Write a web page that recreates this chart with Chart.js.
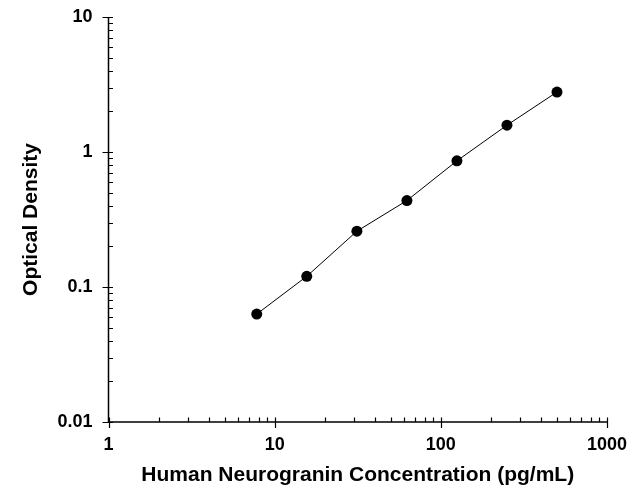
<!DOCTYPE html>
<html>
<head>
<meta charset="utf-8">
<script src="https://cdn.jsdelivr.net/npm/chart.js@4/dist/chart.umd.min.js"></script>
<style>
html,body{margin:0;padding:0;background:#fff;}
#wrap{width:643px;height:500px;position:relative;}
</style>
</head>
<body>
<div id="wrap"><canvas id="c" width="643" height="500"></canvas></div>
<script>
const concentrations = [7.8, 15.6, 31.25, 62.5, 125, 250, 500];
const opticalDensity = [0.063, 0.120, 0.259, 0.437, 0.86, 1.58, 2.78];
const xTickValues = [1, 10, 100, 1000];
const yTickValues = [0.01, 0.1, 1, 10];
const xTitle = 'Human Neurogranin Concentration (pg/mL)';
const yTitle = 'Optical Density';

const points = concentrations.map((x, i) => ({x: x, y: opticalDensity[i]}));

const axisPlugin = {
  id: 'axisPlugin',
  afterDraw(chart) {
    const ctx = chart.ctx;
    const xs = chart.scales.x, ys = chart.scales.y;
    const ca = chart.chartArea;
    ctx.save();
    ctx.strokeStyle = '#000';
    ctx.lineWidth = 1.5;
    ctx.beginPath();
    ctx.moveTo(ca.left, ca.top);
    ctx.lineTo(ca.left, ca.bottom);
    ctx.lineTo(ca.right, ca.bottom);
    ctx.stroke();
    ctx.lineWidth = 1.2;
    ctx.beginPath();
    for (let d = 1; d < 1000; d *= 10) {
      for (let m = 2; m <= 9; m++) {
        const px = Math.round(xs.getPixelForValue(d * m)) + 0.5;
        ctx.moveTo(px, ca.bottom - 4.5);
        ctx.lineTo(px, ca.bottom);
      }
    }
    xTickValues.forEach(v => {
      const px = Math.round(xs.getPixelForValue(v)) + 0.5;
      ctx.moveTo(px, ca.bottom - 4.5);
      ctx.lineTo(px, ca.bottom + 6);
    });
    for (let d = 0.01; d < 9; d *= 10) {
      for (let m = 2; m <= 9; m++) {
        const py = Math.round(ys.getPixelForValue(d * m)) + 0.5;
        ctx.moveTo(ca.left, py);
        ctx.lineTo(ca.left + 4.5, py);
      }
    }
    yTickValues.forEach(v => {
      const py = Math.round(ys.getPixelForValue(v)) + 0.5;
      ctx.moveTo(ca.left - 6, py);
      ctx.lineTo(ca.left + 4.5, py);
    });
    ctx.stroke();
    ctx.restore();
  }
};

const FONT = '"Liberation Sans", Arial, sans-serif';

new Chart(document.getElementById('c'), {
  type: 'scatter',
  data: {
    datasets: [{
      data: points,
      showLine: true,
      borderColor: '#000',
      borderWidth: 1,
      backgroundColor: '#000',
      pointRadius: 5.5,
      pointHoverRadius: 5.5,
      pointBorderWidth: 0,
      clip: false
    }]
  },
  options: {
    responsive: false,
    animation: false,
    devicePixelRatio: 1,
    layout: {padding: {top: 17, right: 36, left: 19, bottom: 12}},
    plugins: {legend: {display: false}, tooltip: {enabled: false}},
    scales: {
      x: {
        type: 'logarithmic',
        min: 1, max: 1000,
        grid: {display: false, drawTicks: false},
        border: {display: false},
        afterBuildTicks: s => { s.ticks = xTickValues.map(v => ({value: v})); },
        afterFit: s => { s.height = 500 - 422 - 12; s.paddingLeft = 0; s.paddingRight = 0; },
        ticks: {
          color: '#000',
          padding: 12,
          autoSkip: false,
          maxRotation: 0,
          font: {family: FONT, size: 18, weight: 'bold'},
          callback: v => String(v)
        },
        title: {
          display: true,
          text: xTitle,
          color: '#000',
          padding: {top: 0, bottom: 0},
          font: {family: FONT, size: 21, weight: 'bold'}
        }
      },
      y: {
        type: 'logarithmic',
        min: 0.01, max: 10,
        grid: {display: false, drawTicks: false},
        border: {display: false},
        afterBuildTicks: s => { s.ticks = yTickValues.map(v => ({value: v})); },
        afterFit: s => { s.width = 89.5; s.paddingTop = 0; s.paddingBottom = 0; },
        ticks: {
          color: '#000',
          padding: 16,
          autoSkip: false,
          font: {family: FONT, size: 18, weight: 'bold'},
          callback: v => String(v)
        },
        title: {
          display: true,
          text: yTitle,
          color: '#000',
          padding: {top: 0, bottom: 0},
          font: {family: FONT, size: 21, weight: 'bold'}
        }
      }
    }
  },
  plugins: [axisPlugin]
});
</script>
</body>
</html>
